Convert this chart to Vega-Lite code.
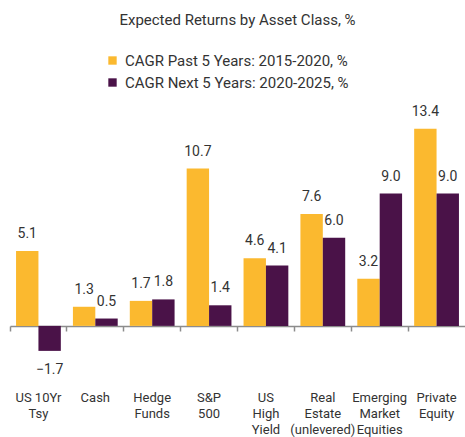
{
  "$schema": "https://vega.github.io/schema/vega-lite/v6.json",
  "autosize": {"type": "none"},
  "width": 455,
  "height": 250,
  "padding": {"left": 10, "top": 120, "right": 0, "bottom": 67},
  "background": "white",
  "config": {"font": "Roboto", "view": {"stroke": null}},
  "title": {"text": "Expected Returns by Asset Class, %", "fontSize": 15, "fontWeight": "normal", "color": "#333333", "anchor": "middle", "frame": "group", "offset": 25},
  "data": {"values": [
    {"cat": "US 10Yr|Tsy", "series": "CAGR Past 5 Years: 2015-2020, %", "value": 5.1},
    {"cat": "US 10Yr|Tsy", "series": "CAGR Next 5 Years: 2020-2025, %", "value": -1.7},
    {"cat": "Cash", "series": "CAGR Past 5 Years: 2015-2020, %", "value": 1.3},
    {"cat": "Cash", "series": "CAGR Next 5 Years: 2020-2025, %", "value": 0.5},
    {"cat": "Hedge|Funds", "series": "CAGR Past 5 Years: 2015-2020, %", "value": 1.7},
    {"cat": "Hedge|Funds", "series": "CAGR Next 5 Years: 2020-2025, %", "value": 1.8},
    {"cat": "S&P|500", "series": "CAGR Past 5 Years: 2015-2020, %", "value": 10.7},
    {"cat": "S&P|500", "series": "CAGR Next 5 Years: 2020-2025, %", "value": 1.4},
    {"cat": "US|High|Yield", "series": "CAGR Past 5 Years: 2015-2020, %", "value": 4.6},
    {"cat": "US|High|Yield", "series": "CAGR Next 5 Years: 2020-2025, %", "value": 4.1},
    {"cat": "Real|Estate|(unlevered)", "series": "CAGR Past 5 Years: 2015-2020, %", "value": 7.6},
    {"cat": "Real|Estate|(unlevered)", "series": "CAGR Next 5 Years: 2020-2025, %", "value": 6.0},
    {"cat": "Emerging|Market|Equities", "series": "CAGR Past 5 Years: 2015-2020, %", "value": 3.2},
    {"cat": "Emerging|Market|Equities", "series": "CAGR Next 5 Years: 2020-2025, %", "value": 9.0},
    {"cat": "Private|Equity", "series": "CAGR Past 5 Years: 2015-2020, %", "value": 13.4},
    {"cat": "Private|Equity", "series": "CAGR Next 5 Years: 2020-2025, %", "value": 9.0}
  ]},
  "encoding": {
    "x": {"field": "cat", "type": "nominal", "sort": null, "title": null,
      "scale": {"paddingInner": 0, "paddingOuter": 0},
      "axis": {"orient": "bottom", "offset": -44, "labelAngle": 0, "labelExpr": "split(datum.value, '|')",
        "labelFontSize": 13, "labelLineHeight": 16, "labelColor": "#333333", "labelPadding": 60,
        "labelBaseline": "top",
        "domainColor": "#8c8c8c", "domainWidth": 1.5, "tickColor": "#8c8c8c", "tickWidth": 1.5, "tickSize": 5, "bandPosition": 0, "grid": false, "labelLimit": 0}},
    "xOffset": {"field": "series", "type": "nominal", "sort": null, "scale": {"paddingInner": 0, "paddingOuter": 0.27}},
    "y": {"field": "value", "type": "quantitative", "scale": {"domain": [-3, 14], "nice": false, "zero": true}, "axis": null}
  },
  "layer": [
    {"mark": {"type": "bar"},
     "encoding": {"color": {"field": "series", "type": "nominal", "sort": null, "title": null,
        "scale": {"domain": ["CAGR Past 5 Years: 2015-2020, %", "CAGR Next 5 Years: 2020-2025, %"], "range": ["#FBB92F", "#4A1248"]},
        "legend": {"orient": "none", "legendX": 95, "legendY": -67, "direction": "vertical", "symbolType": "square", "symbolSize": 70, "symbolStrokeWidth": 0, "labelFontSize": 15, "labelColor": "#333333", "rowPadding": 6, "padding": 0, "labelOffset": 5, "labelLimit": 0}}}},
    {"transform": [{"filter": "datum.value >= 0"}],
     "mark": {"type": "text", "baseline": "alphabetic", "dy": -13, "fontSize": 14, "color": "#333333"},
     "encoding": {"text": {"field": "value", "type": "quantitative", "format": ".1f"}}},
    {"transform": [{"filter": "datum.value < 0"}],
     "mark": {"type": "text", "baseline": "top", "dy": 12, "fontSize": 14, "color": "#333333"},
     "encoding": {"text": {"field": "value", "type": "quantitative", "format": ".1f"}}}
  ]
}
